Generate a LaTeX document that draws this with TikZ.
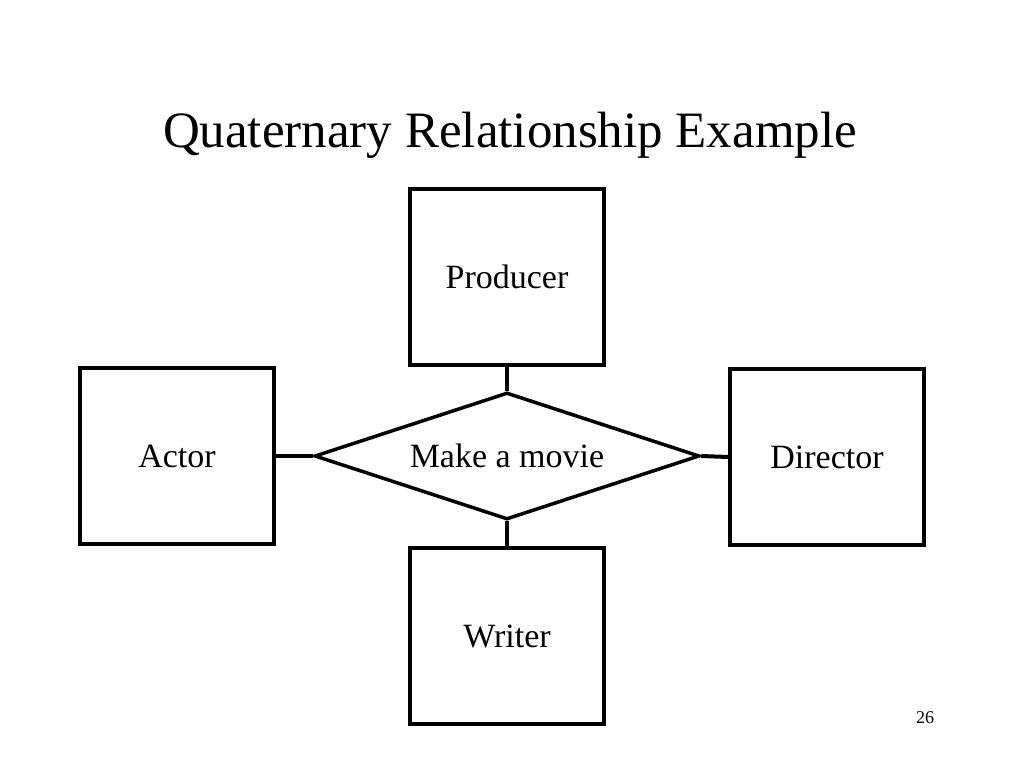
\documentclass[tikz,border=0pt]{standalone}
\usepackage{fontspec}
\setmainfont{Liberation Serif}
\usetikzlibrary{positioning,shapes.geometric}

\begin{document}
\begin{tikzpicture}[
  x=1pt, y=-1pt,
  node distance=28pt,
  ent/.style={draw, line width=3.5pt, minimum width=194pt, minimum height=176pt, inner sep=0pt, font=\fontsize{34}{40}\selectfont},
  rel/.style={draw, diamond, line width=3.5pt, minimum width=385pt, minimum height=127pt, inner sep=0pt, font=\fontsize{34}{40}\selectfont},
  link/.style={line width=4pt}
]
\useasboundingbox (0,0) rectangle (1024,768);

% --- Title ---
\node[font=\fontsize{51}{58}\selectfont] (title) at (510,135) {Quaternary Relationship Example};

% --- Relationship and entities ---
\node[rel] (movie) at (507,456) {\smash{\makebox[0pt]{\raisebox{-11pt}{Make a movie}}}};
\node[ent, above=24pt of movie] (prod) {Producer};
\node[ent, below=25pt of movie] (writer) {Writer};
\node[ent, left=37pt of movie] (actor) {Actor};
\node[ent, right=27pt of movie, yshift=-1pt] (dir) {Director};

\draw[link] (prod) -- (movie.north);
\draw[link] (writer) -- (movie.south);
\draw[link] (actor) -- (movie.west);
\draw[link] (dir.west) -- (movie.east);

% --- Page number ---
\node[font=\fontsize{18}{20}\selectfont] (pg) at (925,718) {26};

\end{tikzpicture}
\end{document}
